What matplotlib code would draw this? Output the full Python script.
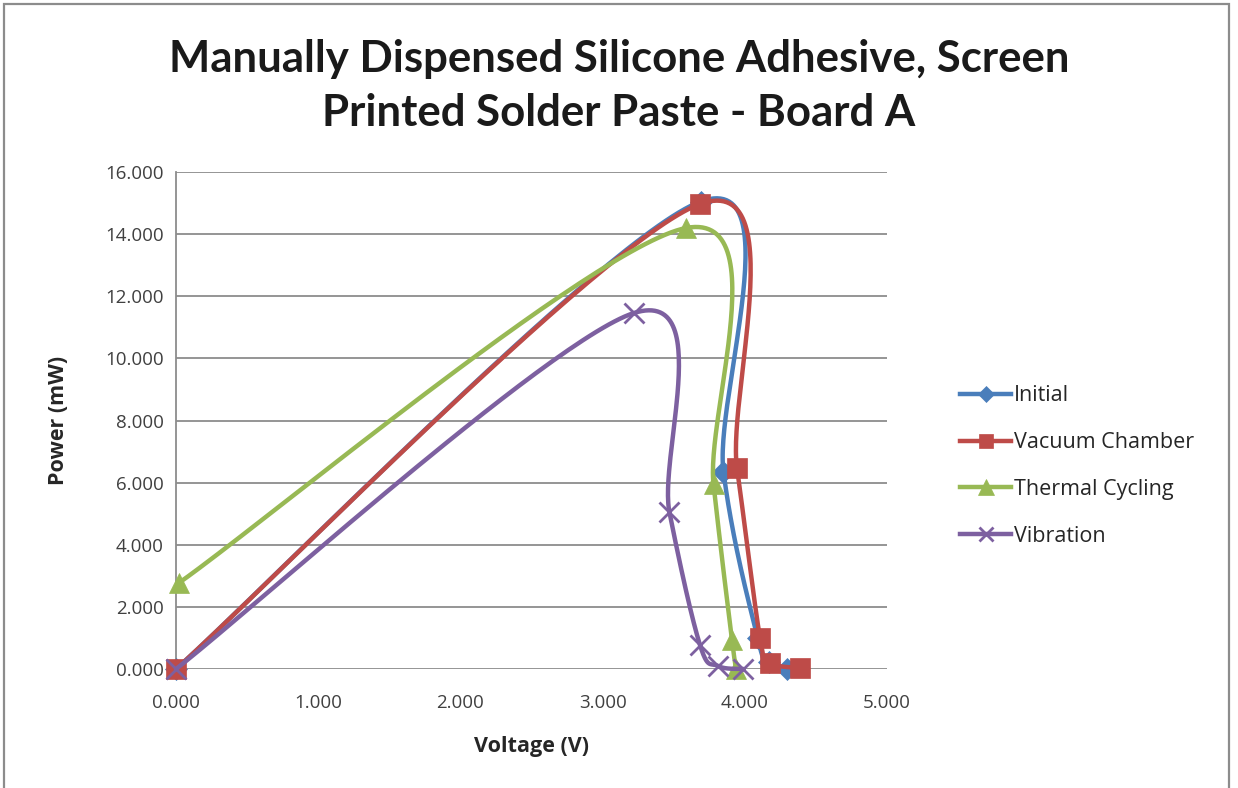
import numpy as np
import matplotlib
matplotlib.use("Agg")
import matplotlib.pyplot as plt
from matplotlib.patches import Rectangle
from matplotlib.lines import Line2D

# Measured power curves (voltage in V, power in mW)
initial_v = [0.000, 3.690, 3.850, 4.090, 4.170, 4.300]
initial_p = [0.000, 15.05, 6.350, 1.000, 0.220, 0.000]

vacuum_v = [0.000, 3.685, 3.945, 4.107, 4.180, 4.390]
vacuum_p = [0.000, 14.97, 6.470, 1.000, 0.200, 0.030]

thermal_v = [0.020, 3.590, 3.780, 3.910, 3.940]
thermal_p = [2.770, 14.20, 5.950, 0.930, 0.000]

vibration_v = [0.000, 3.220, 3.470, 3.685, 3.810, 3.990]
vibration_p = [0.000, 11.46, 5.050, 0.770, 0.100, 0.000]

series_names = ["Initial", "Vacuum Chamber", "Thermal Cycling", "Vibration"]
x_ticks = [0, 1, 2, 3, 4, 5]
y_ticks = [0, 2, 4, 6, 8, 10, 12, 14, 16]

colors = ["#4A7EBB", "#BE4B48", "#98B954", "#7D60A0"]
markers = ["D", "s", "^", "x"]
msizes = [11, 14, 15, 14]

W, H = 1238, 788
fig = plt.figure(figsize=(W / 100, H / 100), dpi=100)
fig.patch.set_facecolor("white")

# outer chart border
fig.add_artist(Rectangle((4 / W, -0.01), (1229 - 4) / W, (H - 4) / H + 0.01,
                         transform=fig.transFigure, fill=False,
                         edgecolor="#8c8c8c", linewidth=1.6))

ax = fig.add_axes([176 / W, 1 - 669 / H, (887 - 176) / W, (669 - 172) / H])
ax.set_xlim(0, 5)
ax.set_ylim(0, 16)

tick_font = ["Open Sans", "DejaVu Sans"]
ax.set_xticks(x_ticks)
ax.set_yticks(y_ticks)
ax.set_xticklabels([f"{v:.3f}" for v in x_ticks], fontsize=13.5,
                   family=tick_font, color="#404040")
ax.set_yticklabels([f"{v:.3f}" for v in y_ticks], fontsize=13.5,
                   family=tick_font, color="#404040")
ax.tick_params(axis="both", length=0)
ax.tick_params(axis="x", pad=18)
ax.tick_params(axis="y", pad=9)

ax.grid(axis="y", color="#8c8c8c", linewidth=1.3)
ax.set_axisbelow(True)
for side in ["top", "right", "bottom"]:
    ax.spines[side].set_visible(False)
ax.spines["left"].set_color("#8c8c8c")
ax.spines["left"].set_linewidth(1.3)


def smooth_curve(xs, ys, n=60):
    """Piecewise cubic Bezier through the points, built in display space."""
    pts = ax.transData.transform(np.column_stack([xs, ys]))
    m = len(pts)
    out = [pts[0]]
    t = np.linspace(0, 1, n)[1:, None]
    for i in range(m - 1):
        p0 = pts[i - 1] if i > 0 else pts[i]
        p1 = pts[i]
        p2 = pts[i + 1]
        p3 = pts[i + 2] if i + 2 < m else pts[i + 1]
        c1 = p1 + (p2 - p0) / 6.0
        c2 = p2 - (p3 - p1) / 6.0
        seg = ((1 - t) ** 3) * p1 + 3 * ((1 - t) ** 2) * t * c1 \
            + 3 * (1 - t) * t ** 2 * c2 + t ** 3 * p2
        out.extend(seg)
    out = np.array(out)
    data = ax.transData.inverted().transform(out)
    return data[:, 0], data[:, 1]


all_v = [initial_v, vacuum_v, thermal_v, vibration_v]
all_p = [initial_p, vacuum_p, thermal_p, vibration_p]

for k, (vs, ps) in enumerate(zip(all_v, all_p)):
    sx, sy = smooth_curve(vs, ps)
    ax.plot(sx, sy, color=colors[k], linewidth=3.2, solid_capstyle="round",
            zorder=3 + k, clip_on=False)
    mew = 2.0 if markers[k] == "x" else 0.5
    ax.plot(vs, ps, linestyle="none", marker=markers[k], markersize=msizes[k],
            color=colors[k], markeredgecolor=colors[k], markeredgewidth=mew,
            zorder=3 + k, clip_on=False)

label_font = ["Open Sans", "DejaVu Sans"]
ax.set_xlabel("Voltage (V)", fontsize=15.5, fontweight="bold",
              family=label_font, color="#262626", labelpad=17)
ax.set_ylabel("Power (mW)", fontsize=15.5, fontweight="bold",
              family=label_font, color="#262626", labelpad=26)

title_font = ["Lato", "DejaVu Sans"]
fig.text(619 / W, 1 - 72 / H, "Manually Dispensed Silicone Adhesive, Screen",
         ha="center", va="baseline", fontsize=31.5, fontweight="bold",
         family=title_font, color="#1a1a1a")
fig.text(619 / W, 1 - 126 / H, "Printed Solder Paste - Board A",
         ha="center", va="baseline", fontsize=31.5, fontweight="bold",
         family=title_font, color="#1a1a1a")

handles = []
for k in range(4):
    mew = 2.0 if markers[k] == "x" else 0.5
    handles.append(Line2D([], [], color=colors[k], linewidth=3.2,
                          marker=markers[k], markersize=msizes[k] * 0.75,
                          markeredgecolor=colors[k], markeredgewidth=mew))
leg = fig.legend(handles, series_names, loc="center left",
                 bbox_to_anchor=(949 / W, 1 - 466 / H), frameon=False,
                 prop={"family": label_font, "size": 15.5},
                 handlelength=2.4, handletextpad=0.12, labelspacing=1.2,
                 borderpad=0)
for t in leg.get_texts():
    t.set_color("#262626")

fig.savefig("out.png", dpi=100, facecolor="white")
